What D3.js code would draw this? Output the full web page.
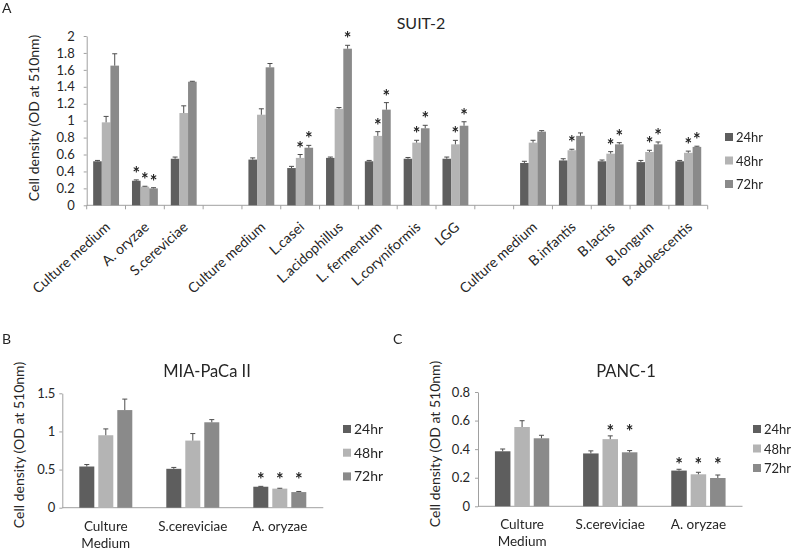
<!DOCTYPE html>
<html><head><meta charset="utf-8">
<script src="https://cdn.jsdelivr.net/npm/d3@7"></script>
<style>
body{margin:0;background:#fff}
svg{display:block}
text{font-family:Lato,'Open Sans',sans-serif;fill:#262626}
.star{opacity:0.99;will-change:transform}
</style>
</head><body>
<svg id="chart" width="793" height="550"></svg>
<script>
// ---------- DATA ----------
const series = ["24hr", "48hr", "72hr"];

// Panel A: SUIT-2
const catsA = ["Culture medium","A. oryzae","S.cereviciae","","Culture medium","L.casei","L.acidophillus","L. fermentum","L.coryniformis","LGG","","Culture medium","B.infantis","B.lactis","B.longum","B.adolescentis"];
const a24 = [0.52,0.29,0.55,null,0.54,0.44,0.56,0.52,0.55,0.55,null,0.50,0.53,0.52,0.51,0.52];
const a48 = [0.98,0.22,1.09,null,1.07,0.56,1.14,0.82,0.74,0.72,null,0.74,0.65,0.61,0.63,0.62];
const a72 = [1.65,0.20,1.46,null,1.63,0.68,1.85,1.13,0.91,0.94,null,0.87,0.82,0.72,0.72,0.69];
const e24 = [0.01,0.01,0.02,null,0.02,0.02,0.01,0.01,0.015,0.02,null,0.02,0.02,0.015,0.02,0.01];
const e48 = [0.07,0.005,0.085,null,0.07,0.04,0.015,0.05,0.028,0.047,null,0.028,0.012,0.024,0.02,0.02];
const e72 = [0.14,0.008,0.005,null,0.045,0.028,0.04,0.083,0.035,0.047,null,0.012,0.035,0.02,0.028,0.008];
const sigA24 = [0,1,0,0,0,0,0,0,0,0,0,0,0,0,0,0];
const sigA48 = [0,1,0,0,0,1,0,1,1,1,0,0,1,1,1,1];
const sigA72 = [0,1,0,0,0,1,1,1,1,1,0,0,0,1,1,1];
const ticksA = [0,0.2,0.4,0.6,0.8,1,1.2,1.4,1.6,1.8,2];

// Panel B: MIA-PaCa II
const catsB = ["Culture Medium","S.cereviciae","A. oryzae"];
const b24 = [0.54,0.51,0.275];
const b48 = [0.95,0.88,0.25];
const b72 = [1.28,1.12,0.205];
const eb24 = [0.026,0.018,0.005];
const eb48 = [0.083,0.092,0.005];
const eb72 = [0.144,0.035,0.008];
const sigB24 = [0,0,1];
const sigB48 = [0,0,1];
const sigB72 = [0,0,1];
const ticksB = [0,0.5,1,1.5];

// Panel C: PANC-1
const catsC = ["Culture Medium","S.cereviciae","A. oryzae"];
const c24 = [0.385,0.37,0.25];
const c48 = [0.555,0.47,0.224];
const c72 = [0.476,0.378,0.198];
const ec24 = [0.016,0.018,0.009];
const ec48 = [0.044,0.023,0.014];
const ec72 = [0.021,0.012,0.021];
const sigC24 = [0,0,1];
const sigC48 = [0,1,1];
const sigC72 = [0,1,1];
const ticksC = [0,0.2,0.4,0.6,0.8];

// ---------- STYLE ----------
const colors = ["#5e5e5e","#b4b4b4","#8a8a8a"];
const axisColor = "#a0a0a0";
const errColor = "#4d4d4d";

const svg = d3.select("#chart");

function panel(o) {
  const g = svg.append("g");
  const x = d3.scaleBand().domain(d3.range(o.cats.length)).range([o.x0, o.x1]);
  const y = d3.scaleLinear().domain([0, o.ymax]).range([o.y0, o.yTop]);
  const bw = x.bandwidth();
  const xs = d3.scaleBand().domain(series)
    .range([bw * (1 - o.gw) / 2, bw * (1 + o.gw) / 2])
    .paddingInner(o.pin).paddingOuter(o.pin / 2);

  // y axis
  const ya = d3.axisLeft(y).tickValues(o.ticks).tickSize(o.tickLen).tickSizeOuter(0)
    .tickPadding(o.tickPad).tickFormat(d3.format("~g"));
  const yg = g.append("g").attr("transform", `translate(${o.x0},0)`).call(ya);
  yg.select(".domain").attr("stroke", axisColor);
  yg.selectAll(".tick line").attr("stroke", axisColor);
  yg.selectAll(".tick text").attr("font-size", o.tickFont).attr("fill", "#262626")
    .attr("font-family", "Lato,'Open Sans',sans-serif");

  // x axis line
  g.append("line").attr("x1", o.x0).attr("x2", o.x1).attr("y1", o.y0).attr("y2", o.y0)
    .attr("stroke", axisColor);
  if (o.boundaryTicks) {
    g.selectAll(".bt").data(d3.range(o.cats.length + 1)).join("line")
      .attr("x1", i => o.x0 + i * bw).attr("x2", i => o.x0 + i * bw)
      .attr("y1", o.y0).attr("y2", o.y0 + 4).attr("stroke", axisColor);
  }

  // bars
  const rows = [];
  o.cats.forEach((c, i) => {
    series.forEach((s, k) => {
      const v = o.vals[k][i];
      if (v == null) return;
      rows.push({i, k, s, v, e: o.errs[k][i], sig: o.sigs[k][i]});
    });
  });
  g.selectAll(".bar").data(rows).join("rect")
    .attr("x", d => x(d.i) + xs(d.s))
    .attr("y", d => y(d.v))
    .attr("width", xs.bandwidth())
    .attr("height", d => y(0) - y(d.v))
    .attr("fill", d => colors[d.k]);

  // error bars (upper only)
  const cx = d => x(d.i) + xs(d.s) + xs.bandwidth() / 2;
  g.selectAll(".err").data(rows).join("line")
    .attr("x1", cx).attr("x2", cx)
    .attr("y1", d => y(d.v)).attr("y2", d => y(d.v + d.e))
    .attr("stroke", errColor).attr("stroke-width", 1);
  g.selectAll(".cap").data(rows).join("line")
    .attr("x1", d => cx(d) - o.cap / 2).attr("x2", d => cx(d) + o.cap / 2)
    .attr("y1", d => y(d.v + d.e)).attr("y2", d => y(d.v + d.e))
    .attr("stroke", errColor).attr("stroke-width", 1);

  // significance stars
  const starRows = rows.filter(d => d.sig);
  const groupTop = {};
  rows.forEach(d => { groupTop[d.i] = Math.min(groupTop[d.i] ?? 1e9, y(d.v + d.e)); });
  g.selectAll(".star").data(starRows).join("text")
    .attr("class", "star")
    .attr("x", cx)
    .attr("y", d => (o.starMode === "group" ? groupTop[d.i] : y(d.v + d.e)) - o.starOff + 10)
    .attr("text-anchor", "middle").attr("font-size", 18).attr("font-weight", 700)
    .style("fill", "#222")
    .text("*");

  // x labels
  if (o.rotate) {
    g.selectAll(".xl").data(o.cats.map((c, i) => ({c, i})).filter(d => d.c)).join("text")
      .attr("transform", d => `translate(${x(d.i) + bw / 2 + o.lx},${o.y0 + o.ly}) rotate(-42)`)
      .attr("text-anchor", "end").attr("font-size", o.labelFont).text(d => d.c);
  } else {
    o.cats.forEach((c, i) => {
      const words = c === "Culture Medium" ? ["Culture", "Medium"] : [c];
      const t = g.append("text").attr("text-anchor", "middle").attr("font-size", o.labelFont);
      words.forEach((w, j) => {
        t.append("tspan").attr("x", x(i) + bw / 2).attr("y", o.y0 + o.ly + j * 17).text(w);
      });
    });
  }

  // title
  g.append("text").attr("x", o.titleX).attr("y", o.titleY).attr("text-anchor", "middle")
    .attr("font-size", o.titleFont).text(o.title);

  // y label
  g.append("text").attr("transform", `translate(${o.ylX},${o.ylY}) rotate(-90)`)
    .attr("text-anchor", "middle").attr("font-size", o.ylFont)
    .text("Cell density (OD at 510nm)");

  // legend
  series.forEach((s, k) => {
    g.append("rect").attr("x", o.legX).attr("y", o.legY + k * o.legStep - 4)
      .attr("width", 8).attr("height", 8).attr("fill", colors[k]);
    g.append("text").attr("x", o.legX + 11).attr("y", o.legY + k * o.legStep + 5)
      .attr("font-size", o.legFont).text(s);
  });

  // panel letter
  g.append("text").attr("x", o.letterX).attr("y", o.letterY).attr("font-size", 14).text(o.letter);
}

panel({
  cats: catsA, vals: [a24, a48, a72], errs: [e24, e48, e72], sigs: [sigA24, sigA48, sigA72],
  ymax: 2, ticks: ticksA, x0: 86.7, x1: 707.7, y0: 205.3, yTop: 36,
  gw: 2 / 3, pin: 0, cap: 5, tickLen: 3, tickPad: 9, tickFont: 13,
  boundaryTicks: true, starMode: "bar", starOff: 10,
  rotate: true, lx: 5, ly: 23, labelFont: 14,
  title: "SUIT-2", titleX: 421, titleY: 29, titleFont: 16,
  ylX: 39, ylY: 118, ylFont: 14,
  legX: 725, legY: 137, legStep: 23.5, legFont: 13,
  letter: "A", letterX: 2, letterY: 13
});

panel({
  cats: catsB, vals: [b24, b48, b72], errs: [eb24, eb48, eb72], sigs: [sigB24, sigB48, sigB72],
  ymax: 1.5, ticks: ticksB, x0: 62.3, x1: 323.3, y0: 507.7, yTop: 393.3,
  gw: 0.655, pin: 0.21, cap: 5, tickLen: 3, tickPad: 4, tickFont: 13,
  boundaryTicks: false, starMode: "group", starOff: 10,
  rotate: false, ly: 23, labelFont: 13.5,
  title: "MIA-PaCa II", titleX: 207, titleY: 377, titleFont: 16.5,
  ylX: 24, ylY: 445, ylFont: 14,
  legX: 343, legY: 429, legStep: 23.7, legFont: 14,
  letter: "B", letterX: 2, letterY: 344
});

panel({
  cats: catsC, vals: [c24, c48, c72], errs: [ec24, ec48, ec72], sigs: [sigC24, sigC48, sigC72],
  ymax: 0.8, ticks: ticksC, x0: 478, x1: 742.5, y0: 506.3, yTop: 392,
  gw: 0.66, pin: 0.2, cap: 5, tickLen: 3, tickPad: 5, tickFont: 13,
  boundaryTicks: false, starMode: "group", starOff: 8,
  rotate: false, ly: 23, labelFont: 13.5,
  title: "PANC-1", titleX: 626, titleY: 377, titleFont: 16.5,
  ylX: 440, ylY: 444, ylFont: 14,
  legX: 753, legY: 429, legStep: 19.5, legFont: 13,
  letter: "C", letterX: 393, letterY: 344
});
</script>
</body></html>
